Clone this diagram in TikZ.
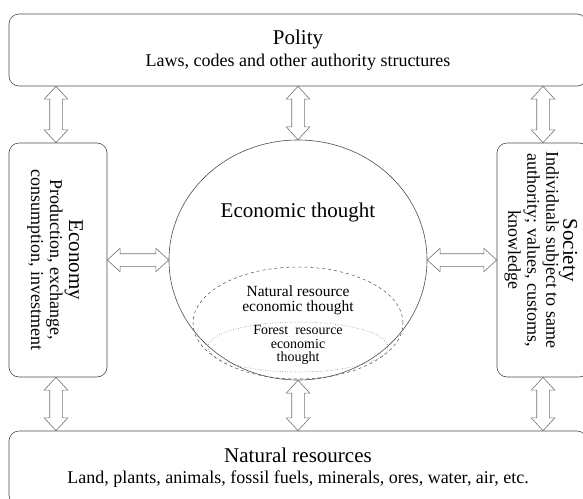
\documentclass[tikz,border=0pt]{standalone}
\usepackage{fontspec}
\setmainfont{Liberation Serif}
\usetikzlibrary{shapes.geometric,shapes.arrows,calc}

\newcommand{\boxtitle}{\fontsize{21}{23}\selectfont}
\newcommand{\boxtext}{\fontsize{18}{19}\selectfont}

\tikzset{
  box/.style={draw=black!70, line width=0.6pt, rounded corners=10pt, inner sep=0pt},
  dblarr/.style={double arrow, draw=black!55, fill=white, line width=0.6pt, inner xsep=0pt, inner ysep=6pt,
    double arrow head extend=5.5pt, double arrow tip angle=85},
}

% hollow two-way arrow between two points
\newcommand{\linkarrow}[2]{%
  \path let \p1=(#1), \p2=(#2), \n1={veclen(\x2-\x1,\y2-\y1)} in
    (\p1) -- node[dblarr, sloped, minimum height=\n1] {} (\p2);}

\begin{document}
\begin{tikzpicture}[x=1pt, y=-1pt]
  \useasboundingbox (0,0) rectangle (583,498);

  % Outer boxes
  \node[box, minimum width=578pt, minimum height=72pt, align=center, font=\boxtext] (polity) at (298,50)
    {{\boxtitle Polity}\\[3pt] Laws, codes and other authority structures};
  \node[box, minimum width=578pt, minimum height=74pt, align=center, font=\boxtext] (natres) at (298,468)
    {{\boxtitle Natural resources}\\[2pt] Land, plants, animals, fossil fuels, minerals, ores, water, air, etc.};
  \node[box, minimum width=98pt, minimum height=234pt] (econ) at (58,260) {};
  \node[box, minimum width=92pt, minimum height=234pt] (society) at (543,260) {};

  % Side texts
  \node[rotate=-90, align=center, font=\boxtext] (econtext) at (55,260)
    {{\boxtitle Economy}\\ Production, exchange,\\ consumption, investment};
  \node[rotate=-90, align=center, font=\boxtext] (societytext) at (541,250)
    {{\boxtitle Society}\\[-2pt] Individuals subject to same\\ authority; values, customs,\\ knowledge};

  % Economic thought
  \node[ellipse, draw=black!70, line width=0.6pt, minimum width=258pt, minimum height=240pt, inner sep=0pt] (thought) at (298,260) {};
  \node[font=\boxtitle] (thoughttext) at (298,212) {Economic thought};

  % Natural resource economic thought
  \node[ellipse, draw=black!70, dashed, line width=0.5pt, minimum width=210pt, minimum height=112pt, inner sep=0pt] (nrthought) at (298,323) {};
  \node[align=center, font=\fontsize{15.5}{15}\selectfont] (nrtext) at (298,300) {Natural resource\\ economic thought};

  % Forest resource economic thought
  \node[ellipse, draw=black!70, dotted, line width=0.5pt, minimum width=180pt, minimum height=50pt, inner sep=0pt] (frthought) at (298,347) {};
  \node[align=center, font=\fontsize{14}{13.5}\selectfont] (frtext) at (298,345) {Forest\ \ resource\\ economic\\ thought};

  % Arrows
  \coordinate (lx) at (56,0);
  \coordinate (rx) at (543,0);
  \linkarrow{polity.south -| lx}{econ.north -| lx}
  \linkarrow{polity.south}{thought.north}
  \linkarrow{polity.south -| rx}{society.north -| rx}
  \linkarrow{econ.east}{thought.west}
  \linkarrow{thought.east}{society.west}
  \linkarrow{econ.south -| lx}{natres.north -| lx}
  \linkarrow{thought.south}{natres.north}
  \linkarrow{society.south -| rx}{natres.north -| rx}
\end{tikzpicture}
\end{document}
